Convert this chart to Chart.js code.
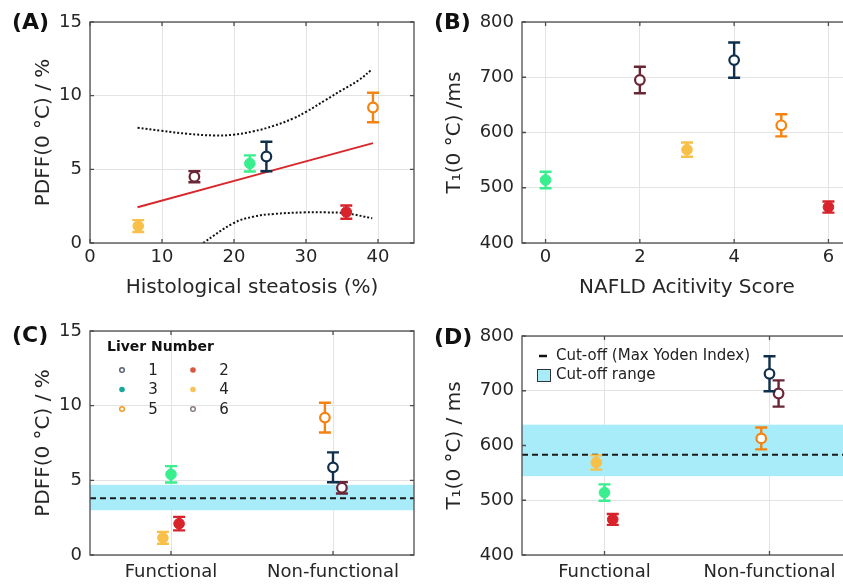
<!DOCTYPE html>
<html>
<head>
<meta charset="utf-8">
<title>Liver PDFF and T1</title>
<script src="https://cdn.jsdelivr.net/npm/chart.js@4.4.0/dist/chart.umd.min.js"></script>
<style>
  html, body { margin: 0; padding: 0; background: #fff; overflow: hidden; }
  #page { position: relative; width: 843px; height: 585px; overflow: hidden; }
  .panel { position: absolute; }
  .tag { position: absolute; font: bold 22px "DejaVu Sans", sans-serif; line-height: 22px; color: #111; }
</style>
</head>
<body>
<div id="page">
  <div class="panel" style="left:0;top:0;width:421px;height:300px"><canvas id="chartA"></canvas></div>
  <div class="panel" style="left:420px;top:0;width:440px;height:300px"><canvas id="chartB"></canvas></div>
  <div class="panel" style="left:0;top:300px;width:421px;height:285px"><canvas id="chartC"></canvas></div>
  <div class="panel" style="left:420px;top:300px;width:440px;height:285px"><canvas id="chartD"></canvas></div>
  <div class="tag" style="left:12px;top:11px">(A)</div>
  <div class="tag" style="left:434px;top:11px">(B)</div>
  <div class="tag" style="left:12px;top:324px">(C)</div>
  <div class="tag" style="left:434px;top:326px">(D)</div>
</div>
<script>
// Livers 1-6
const liverIds = ['1', '2', '3', '4', '5', '6'];
const liverColors = ['#0f2f4a', '#d8232a', '#38ee8d', '#f8c049', '#f4830f', '#6a2637'];
const legendColors = ['#5b6577', '#d9563f', '#17a89a', '#f7c256', '#f29a22', '#8b7d7d'];
const liverOpen = [true, false, false, false, true, true];

// (A) PDFF vs histological steatosis
const steatosis = [24.5, 35.6, 22.2, 6.7, 39.3, 14.5];
const pdff = [5.87, 2.1, 5.4, 1.15, 9.2, 4.5];
const pdffErr = [1.0, 0.45, 0.55, 0.4, 1.0, 0.38];
const fitX = [6.6, 39.3];
const fitY = [2.43, 6.78];
const ciUpperX = [6.6, 9.9, 13.6, 17.3, 19.9, 22.7, 25.5, 28.2, 30, 32.7, 35, 37.3, 39.2];
const ciUpperY = [7.82, 7.62, 7.41, 7.3, 7.35, 7.58, 7.95, 8.45, 8.9, 9.7, 10.38, 11.04, 11.8];
const ciLowerX = [15.7, 19.9, 22.7, 25.5, 29.9, 32.7, 35.5, 39.2];
const ciLowerY = [0, 1.34, 1.79, 1.97, 2.08, 2.08, 2.02, 1.68];

// (B) T1 vs NAFLD activity score
const nas = [4, 6, 0, 3, 5, 2];
const t1 = [731, 465, 514, 569, 613, 695];
const t1Err = [32, 10, 15, 13, 20, 24];

// (C)/(D) functional groups
const groups = ['Functional', 'Non-functional'];
const liverGroup = [1, 0, 0, 0, 1, 1];
const jitter = [0, 0.05, 0, -0.05, -0.05, 0.055];
const pdffCut = 3.8;
const pdffRange = [3.0, 4.7];
const t1Cut = 583;
const t1Range = [544, 638];

// tick labels
const pdffTicks = [0, 5, 10, 15];
const steatosisTicks = [0, 10, 20, 30, 40];
const t1Ticks = [400, 500, 600, 700, 800];
const nasTicks = [0, 2, 4, 6];
const groupTicks = [1, 2];

Chart.defaults.font.family = '"DejaVu Sans", Verdana, sans-serif';
Chart.defaults.color = '#262626';

const FRAME = '#4d4d4d';
const BAND = '#a8ecfa';

function makeScale(o) {
  return {
    type: 'linear',
    min: o.min,
    max: o.max,
    afterBuildTicks: s => { s.ticks = o.ticks.map(v => ({ value: v })); },
    afterFit: s => { if (o.isY) s.width = o.size; else s.height = o.size; },
    grid: { color: '#e3e3e3', lineWidth: 1, drawTicks: false },
    border: { display: false },
    ticks: {
      font: { size: 18 },
      padding: o.tickPad,
      autoSkip: false,
      maxRotation: 0,
      callback: (v, i) => o.labels ? o.labels[i] : v
    },
    title: o.title ? {
      display: true,
      text: o.title,
      font: { size: 20 },
      padding: { top: o.titlePad || 0, bottom: o.titlePad || 0 }
    } : { display: false }
  };
}

function liverDatasets(xs, ys) {
  return liverIds.map((id, i) => ({
    label: 'Liver ' + id,
    data: [{ x: xs[i], y: ys[i] }],
    errors: [ys === pdff ? pdffErr[i] : t1Err[i]],
    borderColor: liverColors[i],
    backgroundColor: liverOpen[i] ? '#ffffff' : liverColors[i],
    pointBackgroundColor: liverOpen[i] ? '#ffffff' : liverColors[i],
    pointBorderColor: liverColors[i],
    pointBorderWidth: liverOpen[i] ? 2.2 : 1,
    pointRadius: liverOpen[i] ? 4.8 : 5.3,
    showLine: false
  }));
}

function curve(xs, ys, color, dash) {
  return {
    data: xs.map((x, i) => ({ x: x, y: ys[i] })),
    showLine: true,
    borderColor: color,
    borderWidth: 2,
    borderDash: dash,
    pointRadius: 0,
    tension: 0.4,
    fill: false
  };
}

const errorBars = {
  id: 'errorBars',
  beforeDatasetDraw(chart, args) {
    const ds = chart.data.datasets[args.index];
    if (!ds.errors) return;
    const ctx = chart.ctx;
    const yScale = chart.scales.y;
    ctx.save();
    ctx.strokeStyle = ds.borderColor;
    ctx.lineWidth = 2.4;
    args.meta.data.forEach((pt, i) => {
      const v = ds.data[i].y, e = ds.errors[i];
      const top = yScale.getPixelForValue(v + e);
      const bot = yScale.getPixelForValue(v - e);
      ctx.beginPath();
      ctx.moveTo(pt.x, top); ctx.lineTo(pt.x, bot);
      ctx.moveTo(pt.x - 6, top); ctx.lineTo(pt.x + 6, top);
      ctx.moveTo(pt.x - 6, bot); ctx.lineTo(pt.x + 6, bot);
      ctx.stroke();
    });
    ctx.restore();
  }
};

// MATLAB style box with inward ticks
const frame = {
  id: 'frame',
  afterDatasetsDraw(chart) {
    const { ctx, chartArea: a, scales } = chart;
    ctx.save();
    ctx.strokeStyle = FRAME;
    ctx.lineWidth = 1.3;
    ctx.strokeRect(a.left, a.top, a.right - a.left, a.bottom - a.top);
    ctx.beginPath();
    scales.x.ticks.forEach(t => {
      const px = scales.x.getPixelForValue(t.value);
      ctx.moveTo(px, a.bottom); ctx.lineTo(px, a.bottom - 4);
      ctx.moveTo(px, a.top); ctx.lineTo(px, a.top + 4);
    });
    scales.y.ticks.forEach(t => {
      const py = scales.y.getPixelForValue(t.value);
      ctx.moveTo(a.left, py); ctx.lineTo(a.left + 4, py);
      ctx.moveTo(a.right, py); ctx.lineTo(a.right - 4, py);
    });
    ctx.stroke();
    ctx.restore();
  }
};

function cutoffPlugin(cut, range) {
  return {
    id: 'cutoff',
    beforeDatasetsDraw(chart) {
      const { ctx, chartArea: a, scales } = chart;
      const y0 = scales.y.getPixelForValue(range[1]);
      const y1 = scales.y.getPixelForValue(range[0]);
      const yc = scales.y.getPixelForValue(cut);
      ctx.save();
      ctx.fillStyle = BAND;
      ctx.fillRect(a.left, y0, a.right - a.left, y1 - y0);
      ctx.strokeStyle = '#1a1a1a';
      ctx.lineWidth = 2;
      ctx.setLineDash([6, 4]);
      ctx.beginPath();
      ctx.moveTo(a.left, yc); ctx.lineTo(a.right, yc);
      ctx.stroke();
      ctx.restore();
    }
  };
}

const liverLegend = {
  id: 'liverLegend',
  afterDraw(chart) {
    const { ctx, chartArea: a } = chart;
    ctx.save();
    ctx.fillStyle = '#111';
    ctx.font = 'bold 14px "DejaVu Sans", sans-serif';
    ctx.textBaseline = 'middle';
    ctx.textAlign = 'left';
    ctx.fillText('Liver Number', a.left + 17, a.top + 16);
    ctx.font = '15px "DejaVu Sans", sans-serif';
    ctx.textAlign = 'center';
    liverIds.forEach((id, i) => {
      const col = i % 2, row = Math.floor(i / 2);
      const mx = a.left + 32 + col * 71;
      const my = a.top + 39 + row * 19.5;
      ctx.beginPath();
      ctx.arc(mx, my, liverOpen[i] ? 2.3 : 2.8, 0, Math.PI * 2);
      if (liverOpen[i]) {
        ctx.strokeStyle = legendColors[i];
        ctx.lineWidth = 1.5;
        ctx.stroke();
      } else {
        ctx.fillStyle = legendColors[i];
        ctx.fill();
      }
      ctx.fillStyle = '#222';
      ctx.fillText(id, mx + 31, my + 1);
    });
    ctx.restore();
  }
};

const cutoffLegend = {
  id: 'cutoffLegend',
  afterDraw(chart) {
    const { ctx, chartArea: a } = chart;
    ctx.save();
    ctx.strokeStyle = '#111';
    ctx.lineWidth = 2.5;
    ctx.beginPath();
    ctx.moveTo(a.left + 17, a.top + 20); ctx.lineTo(a.left + 25, a.top + 20);
    ctx.stroke();
    ctx.fillStyle = BAND;
    ctx.fillRect(a.left + 15, a.top + 33, 13, 12);
    ctx.lineWidth = 1;
    ctx.strokeStyle = '#333';
    ctx.strokeRect(a.left + 15.5, a.top + 33.5, 13, 12);
    ctx.fillStyle = '#222';
    ctx.font = '15px "DejaVu Sans", sans-serif';
    ctx.textBaseline = 'middle';
    ctx.fillText('Cut-off (Max Yoden Index)', a.left + 34, a.top + 20);
    ctx.fillText('Cut-off range', a.left + 34, a.top + 39);
    ctx.restore();
  }
};

const baseOptions = (pad, xScale, yScale) => ({
  responsive: true,
  maintainAspectRatio: false,
  animation: false,
  devicePixelRatio: 1,
  events: [],
  layout: { padding: pad },
  plugins: { legend: { display: false }, tooltip: { enabled: false } },
  scales: { x: xScale, y: yScale }
});

// (A)
new Chart(document.getElementById('chartA'), {
  type: 'scatter',
  data: {
    datasets: liverDatasets(steatosis, pdff).concat([
      curve(fitX, fitY, '#d9262b', []),
      curve(ciUpperX, ciUpperY, '#111111', [2, 2]),
      curve(ciLowerX, ciLowerY, '#111111', [2, 2])
    ])
  },
  options: baseOptions({ top: 22, right: 1, left: 0, bottom: 0 },
    makeScale({ min: 0, max: 45, ticks: steatosisTicks, size: 57, tickPad: 4, title: 'Histological steatosis (%)', titlePad: 0 }),
    makeScale({ isY: true, min: 0, max: 15, ticks: pdffTicks, size: 90, tickPad: 8, title: 'PDFF(0 \u00B0C) / %', titlePad: 32 })),
  plugins: [errorBars, frame]
});

// (B)
new Chart(document.getElementById('chartB'), {
  type: 'scatter',
  data: { datasets: liverDatasets(nas, t1) },
  options: baseOptions({ top: 22, right: 8, left: 0, bottom: 0 },
    makeScale({ min: -0.5, max: 6.5, ticks: nasTicks, size: 57, tickPad: 4, title: 'NAFLD Acitivity Score', titlePad: 0 }),
    makeScale({ isY: true, min: 400, max: 800, ticks: t1Ticks, size: 102, tickPad: 8, title: 'T\u2081(0 \u00B0C) /ms', titlePad: 23 })),
  plugins: [errorBars, frame]
});

const groupX = liverGroup.map((g, i) => g + 1 + jitter[i]);

// (C)
new Chart(document.getElementById('chartC'), {
  type: 'scatter',
  data: { datasets: liverDatasets(groupX, pdff) },
  options: baseOptions({ top: 31, right: 1, left: 0, bottom: 0 },
    makeScale({ min: 0.5, max: 2.5, ticks: groupTicks, labels: groups, size: 30, tickPad: 7 }),
    makeScale({ isY: true, min: 0, max: 15, ticks: pdffTicks, size: 90, tickPad: 8, title: 'PDFF(0 \u00B0C) / %', titlePad: 32 })),
  plugins: [cutoffPlugin(pdffCut, pdffRange), errorBars, frame, liverLegend]
});

// (D)
new Chart(document.getElementById('chartD'), {
  type: 'scatter',
  data: { datasets: liverDatasets(groupX, t1) },
  options: baseOptions({ top: 36, right: 8, left: 0, bottom: 0 },
    makeScale({ min: 0.5, max: 2.5, ticks: groupTicks, labels: groups, size: 30, tickPad: 7 }),
    makeScale({ isY: true, min: 400, max: 800, ticks: t1Ticks, size: 102, tickPad: 8, title: 'T\u2081(0 \u00B0C) / ms', titlePad: 23 })),
  plugins: [cutoffPlugin(t1Cut, t1Range), errorBars, frame, cutoffLegend]
});
</script>
</body>
</html>
